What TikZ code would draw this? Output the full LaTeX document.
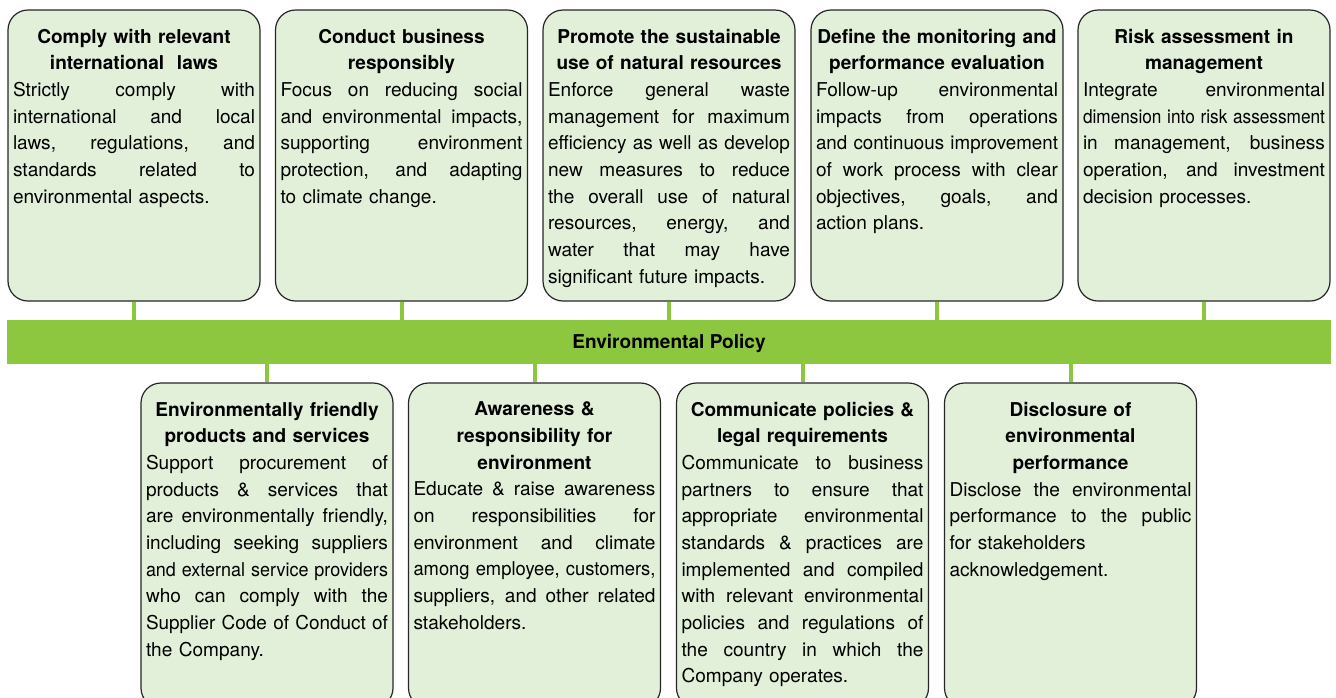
\documentclass[tikz,border=0pt]{standalone}
\usepackage{fontspec}
\usepackage{graphicx}
\setmainfont{TeX Gyre Heros}
\usetikzlibrary{positioning}

\definecolor{leaf}{RGB}{141,198,63}
\definecolor{pale}{RGB}{226,239,217}

% one full-width line: spread the spaces, or squeeze it if too long
\newlength{\jlw}
\newcommand{\jl}[1]{\leavevmode\settowidth{\jlw}{#1}%
  \ifdim\jlw>\linewidth\resizebox{\linewidth}{\height}{#1}%
  \else\hbox to\linewidth{\spaceskip=0.278em plus 1fill\relax #1}\fi\\}
\newcommand{\cardtitle}[1]{{\centering\bfseries #1\par}}

\begin{document}
\begin{tikzpicture}
[x=0.75pt,y=-0.75pt,
card/.style={rectangle,rounded corners=15pt,draw=black!85,line width=0.9pt,fill=pale,minimum width=189pt,minimum height=218.25pt,inner sep=0pt},
lowcard/.style={card,minimum height=243.75pt},
cardtext/.style={text width=181.5pt,inner sep=0pt,font=\fontsize{14.3}{20}\selectfont},
policy/.style={rectangle,fill=leaf,minimum width=993pt,minimum height=33pt,inner sep=0pt,text height=10.3pt,text depth=0pt,font=\fontsize{14.3}{20}\selectfont\bfseries},
link/.style={draw=leaf,line width=3pt}]
\useasboundingbox (0,0) rectangle (1336,697);
\clip (0,0) rectangle (1336,697);

\node[policy] (policy) at (669,342) {Environmental Policy};

% upper row
\node[card] (c1) at (134,155.5) {};
\node[card] (c2) at (401.5,155.5) {};
\node[card] (c3) at (669,155.5) {};
\node[card] (c4) at (937,155.5) {};
\node[card] (c5) at (1204,155.5) {};

\draw[link] (c1.south) -- (c1.south |- policy.north);
\draw[link] (c2.south) -- (c2.south |- policy.north);
\draw[link] (c3.south) -- (c3.south |- policy.north);
\draw[link] (c4.south) -- (c4.south |- policy.north);
\draw[link] (c5.south) -- (c5.south |- policy.north);

\node[cardtext,below=14.5pt of c1.north] (c1t) {\cardtitle{Comply with relevant\\ international~~laws}
\jl{Strictly comply with}
\jl{international and local}
\jl{laws, regulations, and}
\jl{standards related to}
environmental aspects.};

\node[cardtext,below=14.5pt of c2.north] (c2t) {\cardtitle{Conduct business\\ responsibly}
\jl{Focus on reducing social}
\jl{and environmental impacts,}
\jl{supporting environment}
\jl{protection, and adapting}
to climate change.};

\node[cardtext,below=14.5pt of c3.north] (c3t) {\cardtitle{Promote the sustainable\\ use of natural resources}
\jl{Enforce general waste}
\jl{management for maximum}
\jl{efficiency as well as develop}
\jl{new measures to reduce}
\jl{the overall use of natural}
\jl{resources, energy, and}
\jl{water that may have}
significant future impacts.};

\node[cardtext,below=14.5pt of c4.north] (c4t) {\cardtitle{Define the monitoring and\\ performance evaluation}
\jl{Follow-up environmental}
\jl{impacts from operations}
\jl{and continuous improvement}
\jl{of work process with clear}
\jl{objectives, goals, and}
action plans.};

\node[cardtext,below=14.5pt of c5.north] (c5t) {\cardtitle{Risk assessment in\\ management}
\jl{Integrate environmental}
\jl{dimension into risk assessment}
\jl{in management, business}
\jl{operation, and investment}
decision processes.};

% lower row
\node[lowcard] (d1) at (267,545.5) {};
\node[lowcard] (d2) at (534.5,545.5) {};
\node[lowcard] (d3) at (802.5,545.5) {};
\node[lowcard] (d4) at (1070.5,545.5) {};

\draw[link] (d1.north) -- (d1.north |- policy.south);
\draw[link] (d2.north) -- (d2.north |- policy.south);
\draw[link] (d3.north) -- (d3.north |- policy.south);
\draw[link] (d4.north) -- (d4.north |- policy.south);

\node[cardtext,below=14.5pt of d1.north] (d1t) {\cardtitle{Environmentally friendly\\ products and services}
\jl{Support procurement of}
\jl{products \& services that}
\jl{are environmentally friendly,}
\jl{including seeking suppliers}
\jl{and external service providers}
\jl{who can comply with the}
\jl{Supplier Code of Conduct of}
the Company.};

\node[cardtext,below=14.5pt of d2.north] (d2t) {\cardtitle{Awareness \&\\ responsibility for\\ environment}
\jl{Educate \& raise awareness}
\jl{on responsibilities for}
\jl{environment and climate}
\jl{among employee, customers,}
\jl{suppliers, and other related}
stakeholders.};

\node[cardtext,below=14.5pt of d3.north] (d3t) {\cardtitle{Communicate policies \&\\ legal requirements}
\jl{Communicate to business}
\jl{partners to ensure that}
\jl{appropriate environmental}
\jl{standards \& practices are}
\jl{implemented and compiled}
\jl{with relevant environmental}
\jl{policies and regulations of}
\jl{the country in which the}
Company operates.};

\node[cardtext,below=14.5pt of d4.north] (d4t) {\cardtitle{Disclosure of\\ environmental\\ performance}
\jl{Disclose the environmental}
\jl{performance to the public}
for stakeholders\\
acknowledgement.};

\end{tikzpicture}
\end{document}
